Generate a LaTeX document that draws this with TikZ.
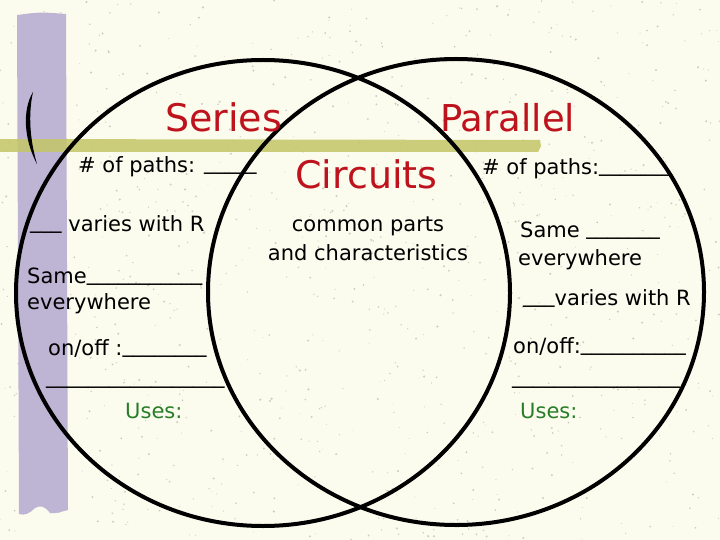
\documentclass[tikz,border=0pt]{standalone}
\usepackage{fontspec}
\setmainfont{DejaVu Sans}
\definecolor{bgcream}{RGB}{251,251,238}
\definecolor{speck}{RGB}{205,205,195}
\definecolor{lav}{RGB}{190,180,212}
\definecolor{olive}{RGB}{196,198,104}
\definecolor{titlered}{RGB}{190,18,28}
\definecolor{usegreen}{RGB}{40,125,40}
\newcommand{\upblank}[1]{\raisebox{3pt}{#1}}
\tikzset{
  body/.style={anchor=base west, inner sep=0pt, font=\fontsize{21}{25}\selectfont, text=black},
  ctext/.style={anchor=base, inner sep=0pt, font=\fontsize{21}{25}\selectfont, text=black},
  title/.style={anchor=base west, inner sep=0pt, font=\fontsize{38}{44}\selectfont, text=titlered},
  usestext/.style={body, text=usegreen},
  ring/.style={draw=black, line width=4pt}
}
\begin{document}
\begin{tikzpicture}[x=1pt,y=-1pt]
\useasboundingbox (0,0) rectangle (720,540);
\fill[bgcream] (0,0) rectangle (720,540);
\pgfmathsetseed{7}
\foreach \i in {1,...,900}{
  \pgfmathsetmacro{\px}{720*rnd}
  \pgfmathsetmacro{\py}{540*rnd}
  \pgfmathsetmacro{\pr}{0.4+0.8*rnd}
  \fill[speck] (\px,\py) circle[radius=\pr];
}
% purple bar
\fill[lav] (17,15) .. controls (40,12) .. (66,14) -- (68,510)
  .. controls (60,512) and (55,514) .. (50,513)
  .. controls (45,506) and (40,505) .. (35,508)
  .. controls (30,513) and (25,516) .. (19,514) -- cycle;
% olive bar
\fill[olive, opacity=0.85] (0,139) -- (540,140) -- (541,146) -- (538,152) -- (0,152) -- cycle;
% crescent
\fill[black] (33,92) .. controls (22,110) and (24,140) .. (37,164)
  .. controls (30,140) and (28,115) .. (33,92) -- cycle;
% circles
\draw[ring] (263,293) ellipse [x radius=247, y radius=233];
\draw[ring] (456,292) ellipse [x radius=248, y radius=233];
% titles
\node[title] (series) at (165,132) {Series};
\node[title, font=\fontsize{37}{44}\selectfont] (parallel) at (440,132) {Parallel};
\node[title] (circuits) at (295,189) {Circuits};
% left
\node[body] (lpaths) at (78,173) {\# of paths: \upblank{\_\_\_\_\_}};
\node[body] (lvaries) at (30,232) {\upblank{\_\_\_} varies with R};
\node[body] (lsame) at (27,283) {Same\upblank{\_\_\_\_\_\_\_\_\_\_\_}};
\node[body] (lever) at (27,309) {everywhere};
\node[body] (lonoff) at (48,355) {on/off :\upblank{\_\_\_\_\_\_\_\_}};
\node[body] (lline) at (46,386) {\upblank{\_\_\_\_\_\_\_\_\_\_\_\_\_\_\_\_\_}};
\node[usestext] (luses) at (125,418) {Uses:};
% middle
\node[ctext] (common) at (368,232) {common parts};
\node[ctext] (chars) at (368,260) {and characteristics};
% right
\node[body] (rpaths) at (482,175) {\# of paths:\upblank{\_\_\_\_\_\_\_}};
\node[body] (rsame) at (520,237) {Same \upblank{\_\_\_\_\_\_\_}};
\node[body] (rever) at (518,265) {everywhere};
\node[body] (rvaries) at (523,305) {\upblank{\_\_\_}varies with R};
\node[body] (ronoff) at (513,353) {on/off:\upblank{\_\_\_\_\_\_\_\_\_\_}};
\node[body] (rline) at (512,386) {\upblank{\_\_\_\_\_\_\_\_\_\_\_\_\_\_\_\_}};
\node[usestext] (ruses) at (520,418) {Uses:};
\end{tikzpicture}
\end{document}
